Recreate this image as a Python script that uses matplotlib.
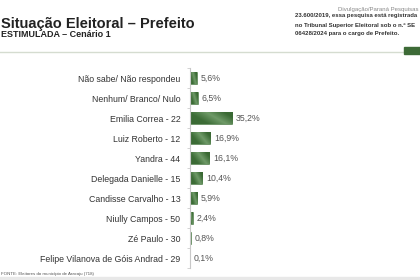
import numpy as np
import matplotlib.pyplot as plt
from matplotlib.colors import LinearSegmentedColormap

# Data
labels = ["Não sabe/ Não respondeu", "Nenhum/ Branco/ Nulo", "Emilia Correa - 22",
          "Luiz Roberto - 12", "Yandra - 44", "Delegada Danielle - 15",
          "Candisse Carvalho - 13", "Niully Campos - 50", "Zé Paulo - 30",
          "Felipe Vilanova de Góis Andrad - 29"]
values = [5.6, 6.5, 35.2, 16.9, 16.1, 10.4, 5.9, 2.4, 0.8, 0.1]
value_text = ["5,6%", "6,5%", "35,2%", "16,9%", "16,1%", "10,4%", "5,9%", "2,4%", "0,8%", "0,1%"]

W, H = 420, 280
plt.rcParams['font.family'] = ['Liberation Sans', 'DejaVu Sans']
fig = plt.figure(figsize=(W / 100, H / 100), dpi=100)
fig.patch.set_facecolor('white')

# Bar axes: left edge at x=190px, rows 20px apart from y=68 to 268
ax = fig.add_axes([190 / W, 1 - 268 / H, 230 / W, 200 / H])
y = np.arange(len(values))
bars = ax.barh(y, values, height=0.6, color='#3d6b37', edgecolor='#4f7f48', linewidth=0.4)

# diagonal dark -> light -> dark shading like the original bars
cmap = LinearSegmentedColormap.from_list('g', ['#3a6934', '#3d6d37', '#6f9a68', '#3a6934'])
gx, gy = np.meshgrid(np.linspace(0, 1, 60), np.linspace(0, 1, 12))
grad = np.clip(gx * 0.8 + (1 - gy) * 0.35, 0, 1)
for b in bars:
    ax.imshow(grad, cmap=cmap, aspect='auto', interpolation='bilinear',
              extent=[0, b.get_width(), b.get_y() + b.get_height(), b.get_y()], zorder=2)
ax.set_ylim(len(values) - 0.5, -0.5)
ax.set_xlim(0, 230 / 1.2)

for yi, v, t in zip(y, values, value_text):
    ax.text(v + 3, yi, t, va='center', ha='left', fontsize=6.3, color='#555555')

ax.set_yticks(y)
ax.set_yticklabels(labels, fontsize=6.3, color='#333333')
ax.tick_params(axis='y', length=0, pad=7)
ax.set_yticks(np.arange(len(values) + 1) - 0.5, minor=True)
ax.tick_params(axis='y', which='minor', length=2, color='#cccccc', width=0.6)
ax.set_xticks([])
for s in ['top', 'right', 'bottom']:
    ax.spines[s].set_visible(False)
ax.spines['left'].set_color('#c8c8c8')
ax.spines['left'].set_linewidth(0.8)

# Header
fig.text(1 / W, 1 - 24 / H, "Situação Eleitoral – Prefeito", fontsize=10.5,
         fontweight='bold', color='#222222', va='center', ha='left')
fig.text(1 / W, 1 - 34.5 / H, "ESTIMULADA – Cenário 1", fontsize=6.5,
         fontweight='bold', color='#222222', va='center', ha='left')

fig.text(419 / W, 1 - 9 / H, "Divulgação/Paraná Pesquisas", fontsize=4.3,
         color='#888888', va='center', ha='right')
fig.text(295 / W, 1 - 15 / H, "23.600/2019, essa pesquisa está registrada", fontsize=4.3,
         color='#333333', va='center', ha='left', fontweight='bold')
fig.text(295 / W, 1 - 25 / H, "no Tribunal Superior Eleitoral sob o n.º SE", fontsize=4.3,
         color='#333333', va='center', ha='left', fontweight='bold')
fig.text(295 / W, 1 - 33.5 / H, "06428/2024 para o cargo de Prefeito.", fontsize=4.3,
         color='#333333', va='center', ha='left', fontweight='bold')

# separator line and small green box
fig.add_artist(plt.Line2D([0, 1], [1 - 52 / H, 1 - 52 / H], color='#d5dcd0', linewidth=1.0))
fig.add_artist(plt.Rectangle((404 / W, 1 - 54 / H), 16 / W, 7 / H, color='#3d6b37', zorder=5))

# footer
fig.text(1 / W, 1 - 274 / H, "FONTE: Eleitores do município de Aracaju (718)", fontsize=3.2,
         color='#555555', va='center', ha='left')
fig.add_artist(plt.Rectangle((0, 0), 1, 3 / H, color='#e8e8e8'))

fig.savefig("out.png", dpi=100, facecolor='white')
